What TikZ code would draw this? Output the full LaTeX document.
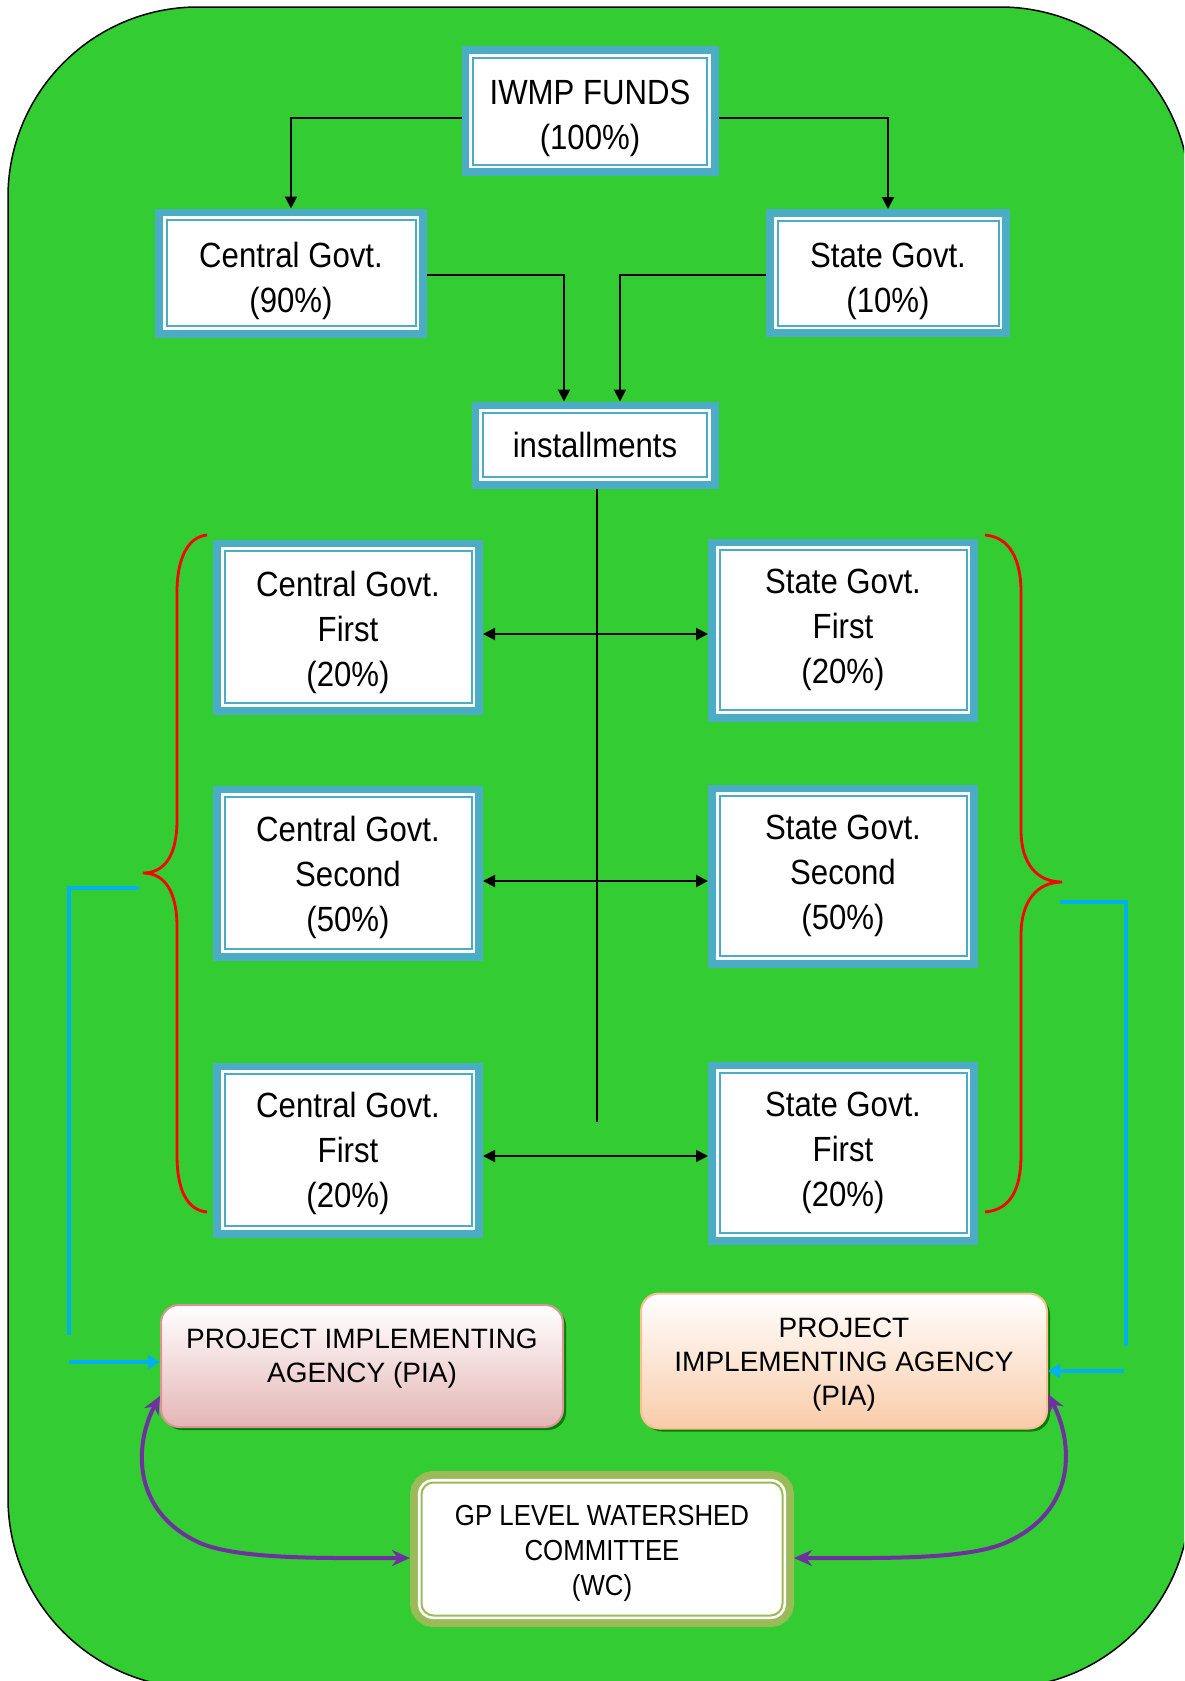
\documentclass[tikz,border=0pt]{standalone}
\usepackage{fontspec}
\setmainfont{Liberation Sans}
\newfontfamily\boxfont[FakeStretch=0.89]{Liberation Sans}
\usetikzlibrary{arrows.meta,calc,shadows}
\newcommand\mytstrut[1]{\rule{0pt}{#1}}
\newcommand\mydstrut[1]{\rule[-#1]{0pt}{#1}}
\definecolor{bggreen}{HTML}{33CC33}
\definecolor{bxblue}{HTML}{4BACC6}
\definecolor{olivec}{HTML}{9BBB59}
\definecolor{cyanl}{HTML}{00B0F0}
\definecolor{purp}{HTML}{7030A0}
\definecolor{pinkbot}{HTML}{E5B5B5}
\definecolor{pinkline}{HTML}{D99694}
\definecolor{peachbot}{HTML}{F9CCAA}
\definecolor{peachline}{HTML}{FAC090}
\tikzset{
  fbox/.style={rectangle, fill=white, draw=bxblue, line width=1pt, inner sep=0pt,
    outer sep=5.75pt, align=center, font=\boxfont\fontsize{17.5}{22.5}\selectfont,
    preaction={draw=bxblue, line width=11.5pt},
    preaction={draw=white, line width=3.7pt}},
  wcbox/.style={rectangle, rounded corners=6pt, fill=white, draw=olivec, line width=1pt, inner sep=0pt,
    outer sep=5.75pt, align=center, font=\boxfont\fontsize{14.5}{17.5}\selectfont,
    preaction={draw=olivec, line width=11.5pt},
    preaction={draw=white, line width=3.7pt}},
  piabox/.style={rectangle, rounded corners=9pt, line width=1pt, inner sep=0pt, align=center,
    font=\fontsize{14}{17}\selectfont,
    drop shadow={shadow xshift=1.5pt, shadow yshift=-1.5pt, fill=black!60!green, opacity=0.8}},
  arr/.style={line width=1pt, -{Triangle[length=6pt,width=6pt]}},
  darr/.style={line width=1pt, {Triangle[length=6pt,width=6pt]}-{Triangle[length=6pt,width=6pt]}},
  plainln/.style={line width=1pt},
  bracel/.style={draw=red, line width=1.4pt},
  cyln/.style={draw=cyanl, line width=2pt},
  cyarr/.style={draw=cyanl, line width=2pt, -{Triangle[length=6pt,width=7pt]}},
  purarr/.style={draw=purp, line width=2pt, {Stealth[length=9pt,width=8pt]}-{Stealth[length=9pt,width=8pt]}}
}
\begin{document}
\begin{tikzpicture}[x=0.5pt,y=-0.5pt]
\useasboundingbox (0,0) rectangle (1184,1681);
\clip (0,0) rectangle (1184,1681);
\draw[fill=bggreen, line width=0.75pt, rounded corners=95pt] (8,7) rectangle (1190,1688);

% top boxes
\node[fbox, minimum width=117pt, minimum height=53.5pt] (iwmp) at (590,111) {\mytstrut{20pt}IWMP FUNDS\\(100\%)};
\node[fbox, minimum width=124.5pt, minimum height=53pt] (cg90) at (291,273) {\mytstrut{21pt}Central Govt.\\(90\%)};
\node[fbox, minimum width=110.5pt, minimum height=52.5pt] (sg10) at (888,273) {\mytstrut{21pt}State Govt.\\(10\%)};
\node[fbox, minimum width=112pt, minimum height=32pt] (inst) at (595,445) {installments};

% middle boxes
\node[fbox, minimum width=123.5pt, minimum height=76pt] (cg1) at (348,627) {\mytstrut{18.5pt}Central Govt.\\First\\(20\%)};
\node[fbox, minimum width=123.5pt, minimum height=80pt] (sg1) at (843,630) {State Govt.\\First\\(20\%)};
\node[fbox, minimum width=123.5pt, minimum height=76pt] (cg2) at (348,873) {\mytstrut{17.3pt}Central Govt.\\Second\\(50\%)};
\node[fbox, minimum width=123.5pt, minimum height=80pt] (sg2) at (843,876) {State Govt.\\Second\\(50\%)};
\node[fbox, minimum width=123.5pt, minimum height=76pt] (cg3) at (348,1150) {\mytstrut{16.3pt}Central Govt.\\First\\(20\%)};
\node[fbox, minimum width=123.5pt, minimum height=80pt] (sg3) at (843,1153) {State Govt.\\First\\(20\%)};

% PIA boxes
\node[piabox, draw=pinkline, top color=white, bottom color=pinkbot, minimum width=201pt, minimum height=61pt]
  (pia1) at (362,1366) {PROJECT IMPLEMENTING\\AGENCY (PIA)\mydstrut{10pt}};
\node[piabox, draw=peachline, top color=white, bottom color=peachbot, minimum width=203pt, minimum height=67.5pt]
  (pia2) at (844,1361) {\mytstrut{13.8pt}PROJECT\\IMPLEMENTING AGENCY\\(PIA)};

% WC box
\node[wcbox, minimum width=180.5pt, minimum height=66.5pt] (wc) at (602,1549) {\mytstrut{14.2pt}GP LEVEL WATERSHED\\COMMITTEE\\(WC)};

% connectors
\draw[arr] ($(iwmp.west)+(0,7)$) -| (cg90.north);
\draw[arr] ($(iwmp.east)+(0,7)$) -| (sg10.north);
\draw[arr] ($(cg90.east)+(0,2)$) -| ($(inst.north)+(-31,0)$);
\draw[arr] ($(sg10.west)+(0,2)$) -| ($(inst.north)+(25,0)$);
\coordinate (vend) at (597,1122);
\draw[plainln] ($(inst.south)+(2,0)$) -- (vend);
\draw[darr] ($(cg1.east |- sg1.west)+(0,4)$) -- ($(sg1.west)+(0,4)$);
\draw[darr] ($(cg2.east |- sg2.west)+(0,5)$) -- ($(sg2.west)+(0,5)$);
\draw[darr] ($(cg3.east |- sg3.west)+(0,3)$) -- ($(sg3.west)+(0,3)$);

% braces
\draw[bracel] (207,535) .. controls (187,537) and (177,560) .. (177,592) -- (177,820)
  .. controls (177,855) and (165,873) .. (143,873)
  .. controls (165,873) and (177,892) .. (177,927) -- (177,1155)
  .. controls (177,1190) and (187,1210) .. (207,1212);
\draw[bracel] (985,535) .. controls (1010,537) and (1021,560) .. (1021,592) -- (1021,830)
  .. controls (1021,865) and (1038,882) .. (1062,882)
  .. controls (1038,882) and (1021,900) .. (1021,935) -- (1021,1155)
  .. controls (1021,1190) and (1010,1210) .. (985,1212);

% cyan lines
\coordinate (cl1) at (139,888);
\coordinate (cl2) at (69,1335);
\coordinate (cl3) at (69,1362);
\draw[cyln] (cl1) -| (cl2);
\draw[cyarr] (cl3) -- (cl3 -| pia1.west);
\coordinate (cr1) at (1060,902);
\coordinate (cr2) at (1126,1346);
\coordinate (cr3) at (1124,1371);
\draw[cyln] (cr1) -| (cr2);
\draw[cyarr] (cr3) -- (cr3 -| pia2.east);

% purple curves
\draw[purarr] ($(pia1.west)+(0,30)$) .. controls (136,1440) and (128,1510) .. (200,1543)
  .. controls (240,1560) and (330,1558) .. ($(wc.west)+(0,9)$);
\draw[purarr] ($(pia2.east)+(0,33)$) .. controls (1072,1440) and (1080,1510) .. (1005,1543)
  .. controls (965,1560) and (880,1558) .. ($(wc.east)+(0,9)$);
\end{tikzpicture}
\end{document}
